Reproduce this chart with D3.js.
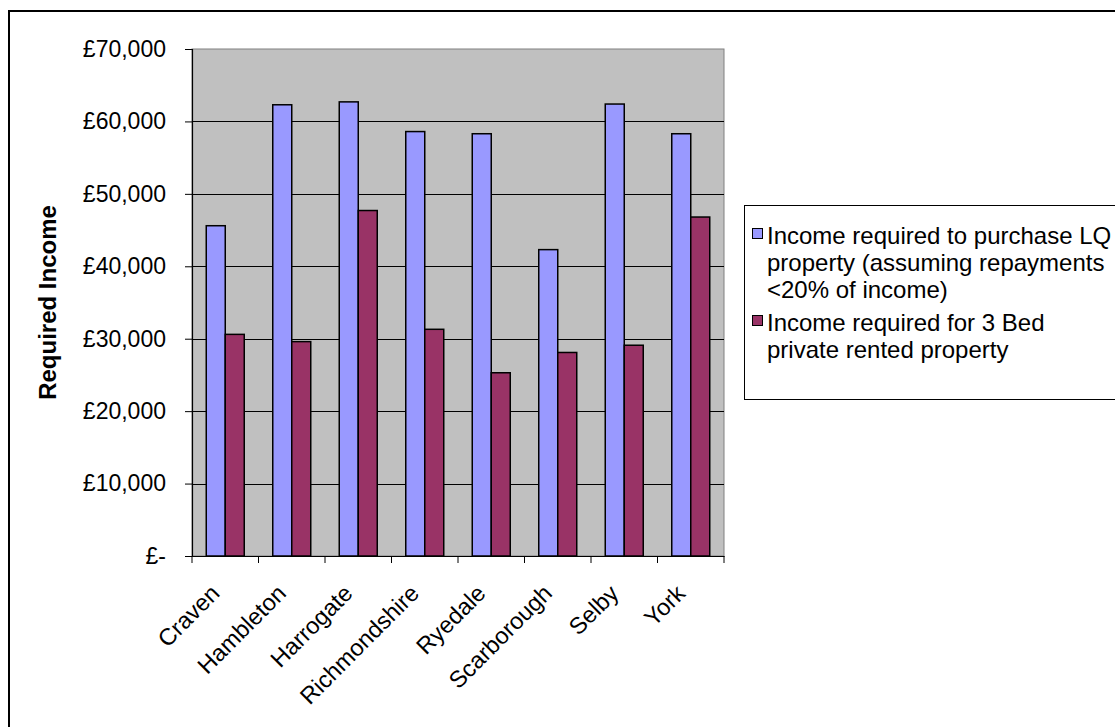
<!DOCTYPE html>
<html>
<head>
<meta charset="utf-8">
<script src="https://cdn.jsdelivr.net/npm/d3@7"></script>
<style>
  html, body { margin: 0; padding: 0; background: #ffffff; }
  svg { display: block; font-family: "Liberation Sans", Arial, sans-serif; }
</style>
</head>
<body>
<svg id="chart" width="1115" height="727"></svg>
<script>
const categories = ["Craven", "Hambleton", "Harrogate", "Richmondshire", "Ryedale", "Scarborough", "Selby", "York"];
const seriesNames = [
  "Income required to purchase LQ property (assuming repayments <20% of income)",
  "Income required for 3 Bed private rented property"
];
const purchaseIncome = [45600, 62300, 62700, 58600, 58300, 42300, 62400, 58300];
const rentIncome = [30600, 29600, 47700, 31300, 25300, 28100, 29100, 46800];
const yTicks = [0, 10000, 20000, 30000, 40000, 50000, 60000, 70000];
const legendLines = [
  ["Income required to purchase LQ", "property (assuming repayments", "<20% of income)"],
  ["Income required for 3 Bed", "private rented property"]
];
const colors = ["#9999FF", "#993366"];

const svg = d3.select("#chart");
const plot = { left: 192, right: 724, top: 49, bottom: 556 };

// outer chart border (extends past the window on right and bottom)
svg.append("rect")
  .attr("x", 9).attr("y", 11)
  .attr("width", 1200).attr("height", 800)
  .attr("fill", "#ffffff").attr("stroke", "#000").attr("stroke-width", 2);

const x = d3.scaleBand().domain(categories).range([plot.left, plot.right]).paddingInner(0).paddingOuter(0);
const xs = d3.scaleBand().domain([0, 1]).range([0, x.bandwidth()]).paddingInner(0).paddingOuter(0.75);
const y = d3.scaleLinear().domain([0, 70000]).range([plot.bottom, plot.top]);

// plot area
svg.append("rect")
  .attr("x", plot.left).attr("y", plot.top)
  .attr("width", plot.right - plot.left).attr("height", plot.bottom - plot.top)
  .attr("fill", "#C0C0C0").attr("stroke", "#808080").attr("stroke-width", 1);

// gridlines
svg.append("g").selectAll("line").data(yTicks.filter(d => d > 0 && d < 70000)).join("line")
  .attr("x1", plot.left).attr("x2", plot.right)
  .attr("y1", d => Math.round(y(d)) + 0.5).attr("y2", d => Math.round(y(d)) + 0.5)
  .attr("stroke", "#000").attr("stroke-width", 1);

// bars
const data = categories.map((c, i) => ({ c, vals: [purchaseIncome[i], rentIncome[i]] }));
const groups = svg.append("g").selectAll("g").data(data).join("g")
  .attr("transform", d => `translate(${x(d.c)},0)`);
groups.selectAll("rect").data(d => d.vals.map((v, k) => ({ v, k }))).join("rect")
  .attr("x", d => xs(d.k))
  .attr("y", d => y(d.v))
  .attr("width", xs.bandwidth())
  .attr("height", d => y(0) - y(d.v))
  .attr("fill", d => colors[d.k])
  .attr("stroke", "#000").attr("stroke-width", 1.5);

// y axis
const fmt = d => d === 0 ? "£-" : "£" + d3.format(",")(d);
const yAxis = svg.append("g").attr("transform", `translate(${plot.left},0)`)
  .call(d3.axisLeft(y).tickValues(yTicks).tickFormat(fmt).tickSize(7).tickPadding(19));
yAxis.select(".domain").attr("stroke", "#000").attr("stroke-width", 1.2);
yAxis.selectAll(".tick line").attr("stroke", "#000");
yAxis.selectAll(".tick text").attr("font-size", 23).attr("fill", "#000")
  .attr("font-family", "Liberation Sans, Arial, sans-serif");

// x axis
const xAxis = svg.append("g").attr("transform", `translate(0,${plot.bottom})`)
  .call(d3.axisBottom(x).tickSize(0).tickFormat(""));
xAxis.select(".domain").attr("stroke", "#000").attr("stroke-width", 1.2);
const boundaries = categories.map(c => x(c)).concat([x(categories[categories.length - 1]) + x.bandwidth()]);
xAxis.append("g").selectAll("line").data(boundaries).join("line")
  .attr("x1", d => d).attr("x2", d => d).attr("y1", 0).attr("y2", 7)
  .attr("stroke", "#000");
xAxis.append("g").selectAll("text").data(categories).join("text")
  .attr("transform", d => `translate(${x(d) + x.bandwidth() / 2 - 10},${33}) rotate(-45)`)
  .attr("text-anchor", "end")
  .attr("dy", "0.35em")
  .attr("font-size", 23.5).attr("fill", "#000")
  .text(d => d);

// y title
svg.append("text")
  .attr("transform", `translate(56,${(plot.top + plot.bottom) / 2}) rotate(-90)`)
  .attr("text-anchor", "middle")
  .attr("font-size", 24).attr("font-weight", "bold").attr("fill", "#000")
  .text("Required Income");

// legend
const lg = svg.append("g");
lg.append("rect").attr("x", 744.5).attr("y", 205.5).attr("width", 500).attr("height", 194)
  .attr("fill", "#fff").attr("stroke", "#000").attr("stroke-width", 1);
const itemTop = [244, 331];
const lineH = 27;
seriesNames.forEach((name, k) => {
  lg.append("rect").attr("x", 752.5).attr("y", itemTop[k] - 15.5).attr("width", 10).attr("height", 10)
    .attr("fill", colors[k]).attr("stroke", "#000").attr("stroke-width", 1);
  legendLines[k].forEach((ln, j) => {
    lg.append("text").attr("x", 767).attr("y", itemTop[k] + j * lineH)
      .attr("font-size", 24).attr("fill", "#000").text(ln);
  });
});
</script>
</body>
</html>
